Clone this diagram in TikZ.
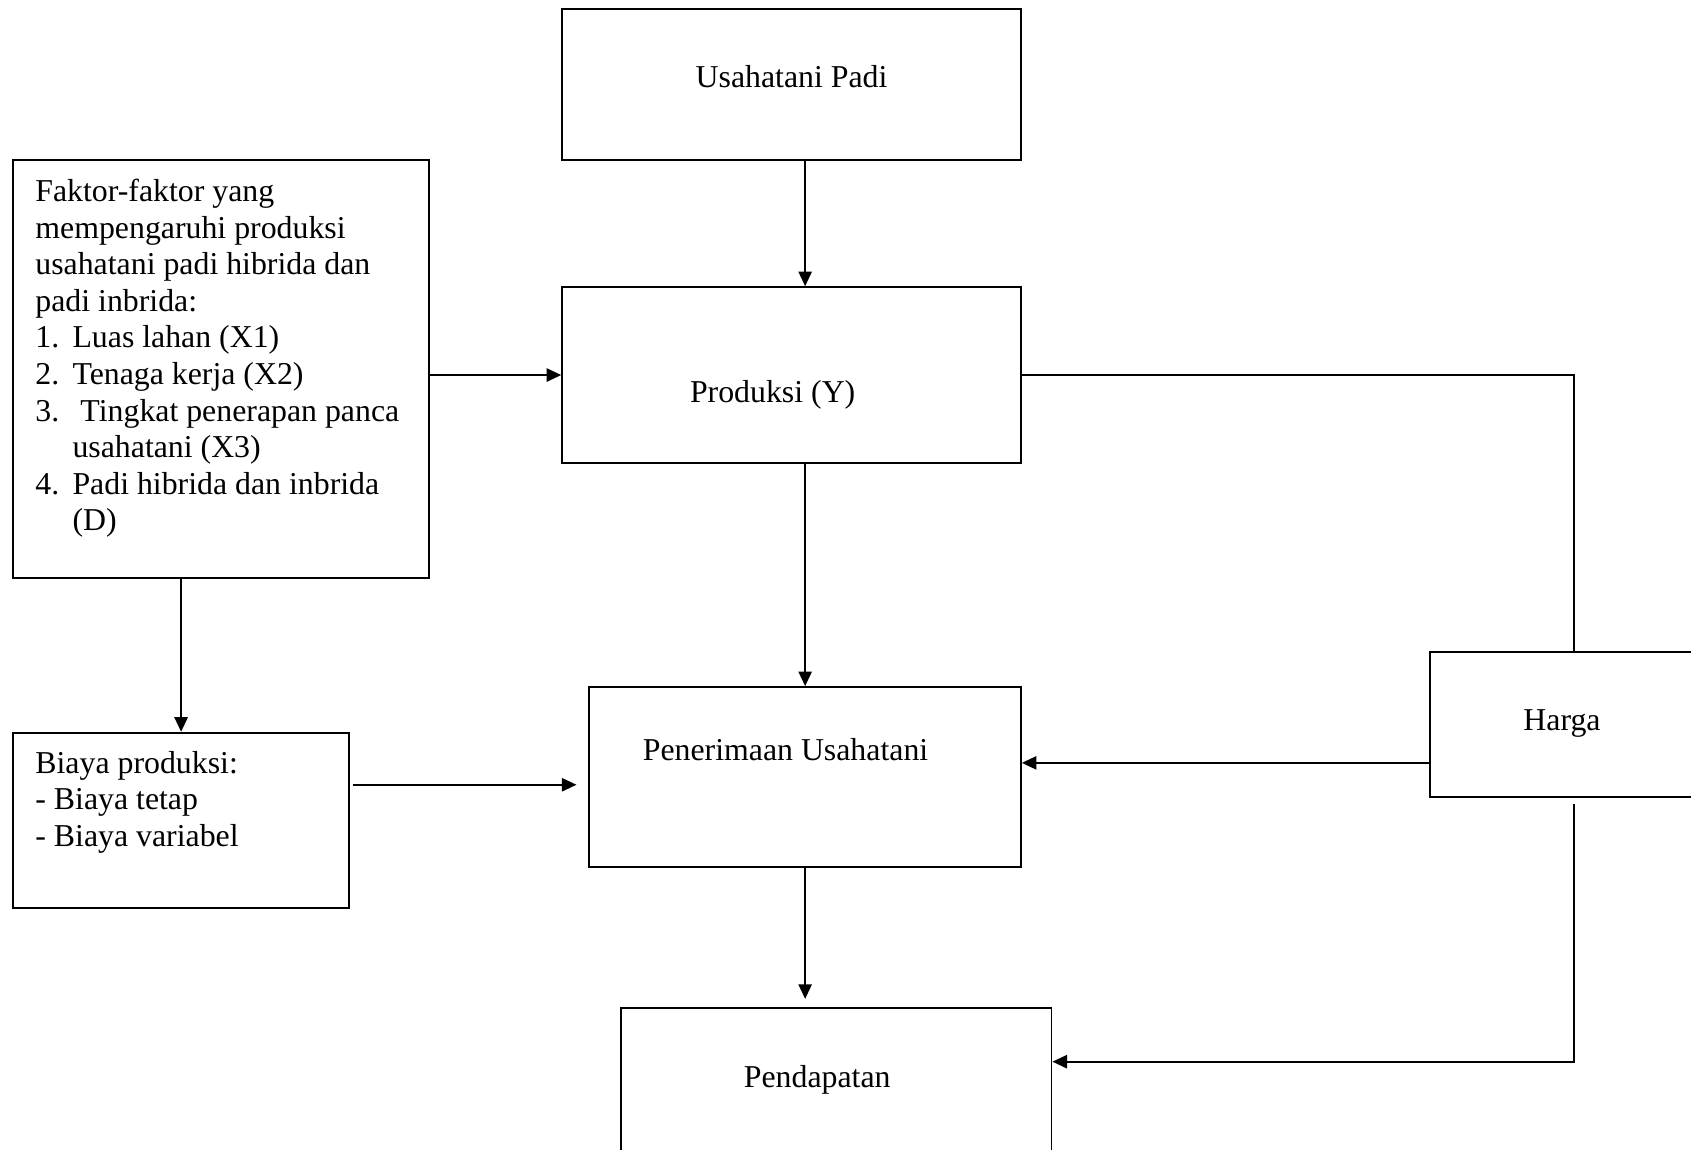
\documentclass[tikz,border=0pt]{standalone}
\usepackage{fontspec}
\setmainfont{Liberation Serif}
\usepackage{tikz}
\usetikzlibrary{positioning, calc, arrows.meta}
\tikzset{
	boxnode/.style={draw, inner sep=0pt}
}
\tikzset{
	boxtext/.style={inner sep=0pt, align=left}
}
\tikzset{
	arr/.style={-{Triangle[length=5.5pt,width=5pt]}}
}
\newcommand{\itm}[1]{\makebox[14pt][l]{#1}}
\newcommand{\hang}{\hspace*{14pt}}

\begin{document}
\begin{tikzpicture}[line width=0.7pt, font=\fontsize{12pt}{13.8pt}\selectfont]
      \useasboundingbox (0,0) rectangle (22.41,-15.24);
      % boxes
      \node[boxnode, minimum width=6.08cm, minimum height=2.00cm] (usaha) at (10.49,-1.12) {};
      \node[boxnode, minimum width=6.08cm, minimum height=2.33cm] (prod) at (10.49,-4.97) {};
      \node[boxnode, minimum width=5.51cm, minimum height=5.54cm] (faktor) at (2.93,-4.89) {};
      \node[boxnode, minimum width=4.45cm, minimum height=2.32cm] (biaya) at (2.40,-10.87) {};
      \node[boxnode, minimum width=5.72cm, minimum height=2.39cm] (pener) at (10.67,-10.30) {};
      \node[boxnode, minimum width=5.71cm, minimum height=2.01cm] (pend) at (11.08,-14.36) {};
      \node[boxnode, minimum width=3.58cm, minimum height=1.92cm] (harga) at (20.74,-9.60) {};
      % texts
      \node[boxtext] (tusaha) at (10.49,-1.015) {Usahatani Padi};
      \node[boxtext] (tprod) at (10.24,-5.23) {Produksi (Y)};
      \node[boxtext] (tpener) at (10.41,-9.93) {Penerimaan Usahatani};
      \node[boxtext] (tpend) at (10.83,-14.31) {Pendapatan};
      \node[boxtext] (tharga) at (20.70,-9.59) {Harga};
      \node[boxtext, anchor=north west] (tfaktor) at (0.457,-2.36) {Faktor-faktor yang\\
        mempengaruhi produksi\\
        usahatani padi hibrida dan\\
        padi inbrida:\\
        \itm{1.}Luas lahan (X1)\\
        \itm{2.}Tenaga kerja (X2)\\
        \itm{3.}\ Tingkat penerapan panca\\
        \hang usahatani (X3)\\
        \itm{4.}Padi hibrida dan inbrida\\
        \hang (D)};
      \node[boxtext, anchor=north west] (tbiaya) at (0.457,-9.94) {Biaya produksi:\\
        - Biaya tetap\\
        - Biaya variabel};
      % connectors
      \coordinate (bp) at ([yshift=0.47cm]biaya.east);
      \coordinate (hw) at ([yshift=-0.51cm]harga.west);
      \coordinate (hs) at ([xshift=0.12cm,yshift=-0.08cm]harga.south);
      \coordinate (pe) at ([yshift=0.29cm]pend.east);
      \draw[arr] (usaha.south -| pener.north) -- (prod.north -| pener.north);
      \draw[arr] (faktor.east |- prod.west) -- (prod.west);
      \draw[arr] (prod.south -| pener.north) -- (pener.north);
      \draw[arr] (faktor.south -| biaya.north) -- (biaya.north);
      \draw[arr, shorten <=1pt, shorten >=4.5pt] (bp) -- (bp -| pener.west);
      \draw[arr, shorten >=3pt] (pener.south) -- (pend.north -| pener.south);
      \draw (prod.east) -| ([xshift=0.12cm]harga.north);
      \draw[arr] (hw) -- (hw -| pener.east);
      \draw[arr] (hs) |- (pe);
\end{tikzpicture}
\end{document}
